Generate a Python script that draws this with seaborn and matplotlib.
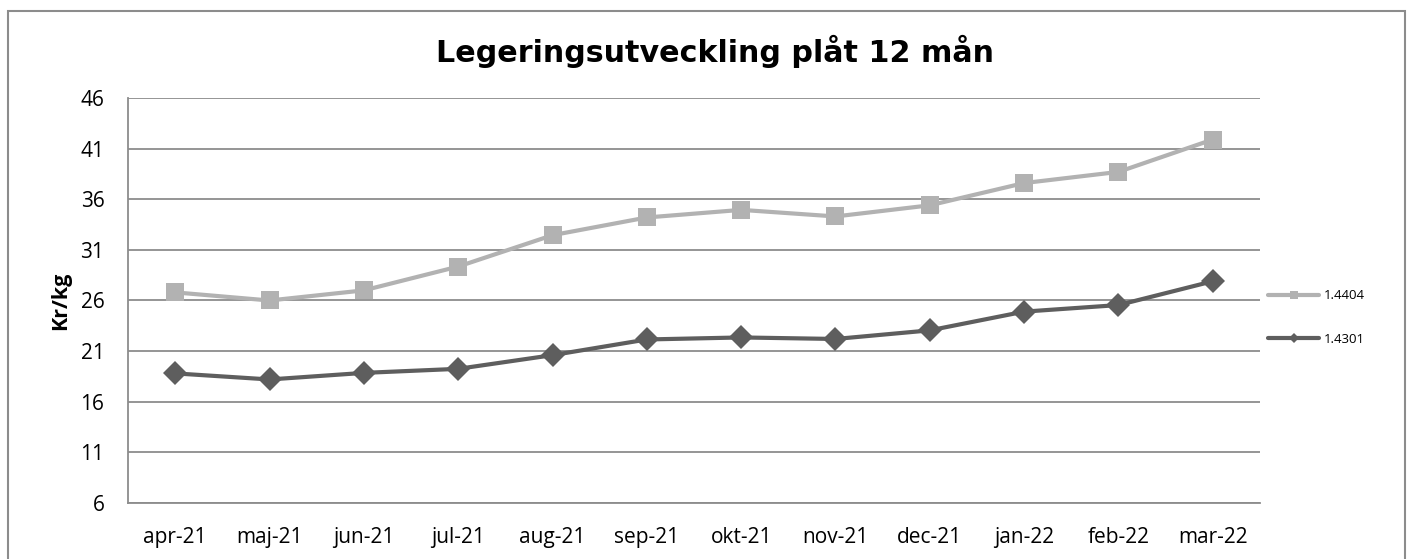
import matplotlib.pyplot as plt
import numpy as np
import pandas as pd
import seaborn as sns
from matplotlib.lines import Line2D
from matplotlib.patches import Rectangle


MONTHS = ["apr-21", "maj-21", "jun-21", "jul-21", "aug-21", "sep-21",
          "okt-21", "nov-21", "dec-21", "jan-22", "feb-22", "mar-22"]
SERIES_NAMES = ["1.4404", "1.4301"]
VALUES_4404 = [26.8, 26.0, 27.0, 29.35, 32.45, 34.2, 34.95, 34.3, 35.4, 37.6, 38.7, 41.9]
VALUES_4301 = [18.8, 18.2, 18.85, 19.25, 20.6, 22.15, 22.35, 22.2, 23.05, 24.9, 25.55, 27.9]
Y_TICKS = [6, 11, 16, 21, 26, 31, 36, 41, 46]

COLORS = {"1.4404": "#b2b2b2", "1.4301": "#5e5e5e"}
MARKERS = {"1.4404": "s", "1.4301": "D"}
MARKER_SIZES = {"1.4404": 13, "1.4301": 12}


def build_frame():
    return pd.DataFrame(
        {
            "month": MONTHS * 2,
            "value": VALUES_4404 + VALUES_4301,
            "series": [SERIES_NAMES[0]] * len(MONTHS) + [SERIES_NAMES[1]] * len(MONTHS),
        }
    )


def main():
    sns.set_style("white")
    plt.rcParams["font.family"] = ["Open Sans", "DejaVu Sans"]
    plt.rcParams["text.color"] = "black"

    df = build_frame()
    fig = plt.figure(figsize=(14.13, 5.59), dpi=100)
    ax = fig.add_axes([0.0906, 0.1002, 0.8011, 0.7245])

    for name in SERIES_NAMES:
        sns.lineplot(
            data=df[df["series"] == name],
            x="month",
            y="value",
            color=COLORS[name],
            marker=MARKERS[name],
            markersize=MARKER_SIZES[name],
            markeredgewidth=0,
            linewidth=3,
            ax=ax,
            legend=False,
            zorder=3,
        )

    ax.set_xlim(-0.5, len(MONTHS) - 0.5)
    ax.set_ylim(Y_TICKS[0], Y_TICKS[-1])
    ax.set_yticks(Y_TICKS)
    ax.yaxis.grid(True, color="#8c8c8c", linewidth=1.3)
    ax.xaxis.grid(False)
    ax.tick_params(axis="both", length=0, labelsize=15, colors="black")
    ax.tick_params(axis="y", pad=17)
    ax.tick_params(axis="x", pad=17)
    ax.set_xlabel("")
    ax.set_ylabel("Kr/kg", fontsize=15.5, fontweight="bold", labelpad=7, color="black")

    for side in ["right", "top"]:
        ax.spines[side].set_visible(False)
    for side in ["left", "bottom"]:
        ax.spines[side].set_color("#8c8c8c")
        ax.spines[side].set_linewidth(1.3)

    fig.text(0.506, 0.908, "Legeringsutveckling plåt 12 mån", ha="center", va="center",
             fontsize=21.7, fontweight="bold", family="DejaVu Sans", color="black")

    handles = [
        Line2D([], [], color=COLORS[name], marker=MARKERS[name], markersize=6 if name == "1.4404" else 5,
               markeredgewidth=0, linewidth=3)
        for name in SERIES_NAMES
    ]
    fig.legend(handles, SERIES_NAMES, loc="center left", bbox_to_anchor=(0.889, 0.432),
               frameon=False, fontsize=9.5, handlelength=3.9, handletextpad=0.3,
               labelspacing=2.3)

    fig.patches.append(Rectangle((8 / 1413, -0.05), 1397 / 1413, 1.05 - 11 / 559,
                                 transform=fig.transFigure, fill=False,
                                 edgecolor="#8c8c8c", linewidth=1.5))

    fig.savefig("out.png", dpi=100)
    plt.close(fig)


if __name__ == "__main__":
    main()
